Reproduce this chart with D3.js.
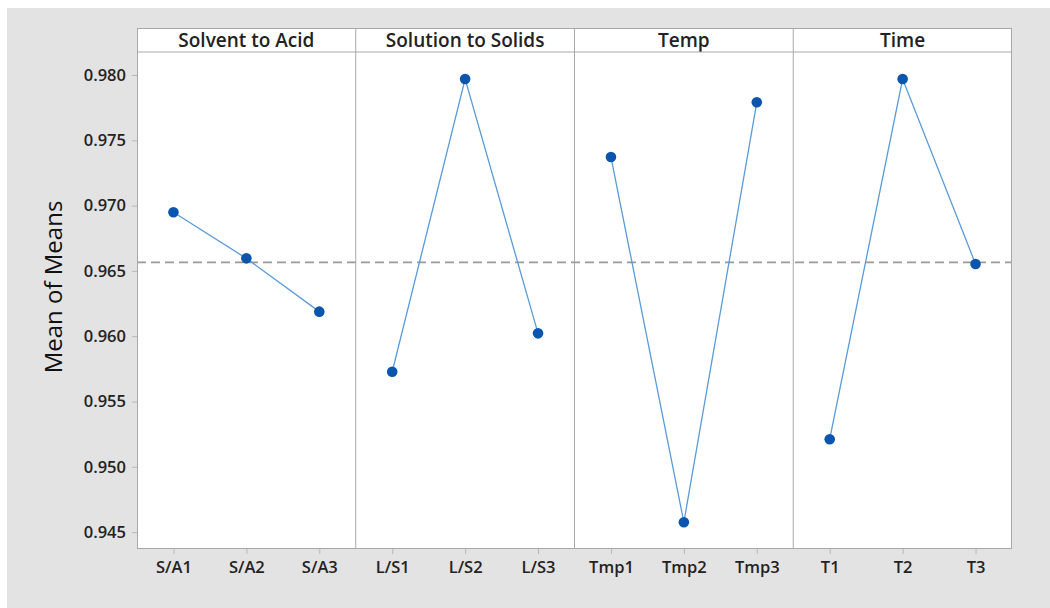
<!DOCTYPE html>
<html><head><meta charset="utf-8">
<script src="https://cdn.jsdelivr.net/npm/d3@7"></script>
<style>
html,body{margin:0;padding:0;background:#fff;}
svg{display:block;font-family:"Open Sans","Noto Sans",sans-serif;}
</style></head>
<body>
<svg id="c" width="1050" height="608"></svg>
<script>
const factors = ["Solvent to Acid", "Solution to Solids", "Temp", "Time"];
const levels = [
  ["S/A1", "S/A2", "S/A3"],
  ["L/S1", "L/S2", "L/S3"],
  ["Tmp1", "Tmp2", "Tmp3"],
  ["T1", "T2", "T3"]
];
const means = [
  [0.96949, 0.96596, 0.96188],
  [0.95728, 0.97969, 0.96022],
  [0.97372, 0.94575, 0.97791],
  [0.95211, 0.97969, 0.96553]
];
const grandMean = 0.96565;
const yTicks = [0.945, 0.950, 0.955, 0.960, 0.965, 0.970, 0.975, 0.980];
const yTitle = "Mean of Means";

const svg = d3.select("#c");
const W = 1050, H = 608;
svg.append("rect").attr("x",0).attr("y",0).attr("width",W).attr("height",H).attr("fill","#ffffff");
svg.append("rect").attr("x",7).attr("y",8).attr("width",W-7).attr("height",H-8).attr("fill","#e3e3e3");

const L = 137, R = 1012, T = 28, HB = 52, B = 549;
const y = d3.scaleLinear().domain([0.943706, 0.981761]).range([B, HB]);
const panelX = d3.scaleBand().domain(factors).range([L, R]).paddingInner(0).paddingOuter(0);

// plot background
svg.append("rect").attr("x",L).attr("y",T).attr("width",R-L).attr("height",B-T).attr("fill","#fff");

// grand mean dashed line
svg.append("line").attr("x1",L).attr("x2",R).attr("y1",y(grandMean)).attr("y2",y(grandMean))
  .attr("stroke","#9a9a9a").attr("stroke-width",1.6).attr("stroke-dasharray","9,5");

// y axis
const yAxis = d3.axisLeft(y).tickValues(yTicks).tickFormat(d3.format(".3f")).tickSize(5).tickPadding(6);
const ya = svg.append("g").attr("transform",`translate(${L},0)`).call(yAxis);
ya.select(".domain").remove();
ya.selectAll(".tick line").attr("stroke","#b8b8b8");
ya.selectAll(".tick text").attr("fill","#222").style("font-size","16.5px").style("font-weight","600")
  .style("font-family","'Open Sans',sans-serif");

svg.append("text").attr("transform",`translate(52,287) rotate(-90)`).attr("text-anchor","middle")
  .attr("dominant-baseline","central")
  .attr("fill","#111").style("font-size","24px").style("font-family","'Open Sans',sans-serif").text(yTitle);

factors.forEach((f,i)=>{
  const x0 = panelX(f), bw = panelX.bandwidth();
  const x = d3.scalePoint().domain(levels[i]).range([x0, x0+bw]).padding(0.5);
  const g = svg.append("g");
  // x axis
  const xAxis = d3.axisBottom(x).tickSize(5).tickPadding(7);
  const xa = g.append("g").attr("transform",`translate(0,${B})`).call(xAxis);
  xa.select(".domain").remove();
  xa.selectAll(".tick line").attr("stroke","#b8b8b8");
  xa.selectAll(".tick text").attr("fill","#222").style("font-size","16.5px").style("font-weight","600")
    .style("font-family","'Open Sans',sans-serif");
  // header
  g.append("text").attr("x",x0+bw/2).attr("y",47).attr("text-anchor","middle")
    .attr("fill","#222").style("font-size","19px").style("font-weight","600").text(f);
  // line
  const data = levels[i].map((lv,j)=>({lv, v: means[i][j]}));
  g.append("path").datum(data)
    .attr("d", d3.line().x(d=>x(d.lv)).y(d=>y(d.v)))
    .attr("fill","none").attr("stroke","#5b9bd8").attr("stroke-width",1.3);
  g.selectAll("circle").data(data).join("circle")
    .attr("cx",d=>x(d.lv)).attr("cy",d=>y(d.v)).attr("r",5.3)
    .attr("fill","#0a56ae");
  // divider
  if (i>0) {
    svg.append("line").attr("x1",x0).attr("x2",x0).attr("y1",T).attr("y2",B)
      .attr("stroke","#a8a8a8").attr("stroke-width",1);
  }
});

// header separator and frame
svg.append("line").attr("x1",L).attr("x2",R).attr("y1",HB).attr("y2",HB).attr("stroke","#a8a8a8").attr("stroke-width",1);
svg.append("rect").attr("x",L+0.5).attr("y",T+0.5).attr("width",R-L-1).attr("height",B-T-1)
  .attr("fill","none").attr("stroke","#a8a8a8").attr("stroke-width",1);
</script>
</body></html>
